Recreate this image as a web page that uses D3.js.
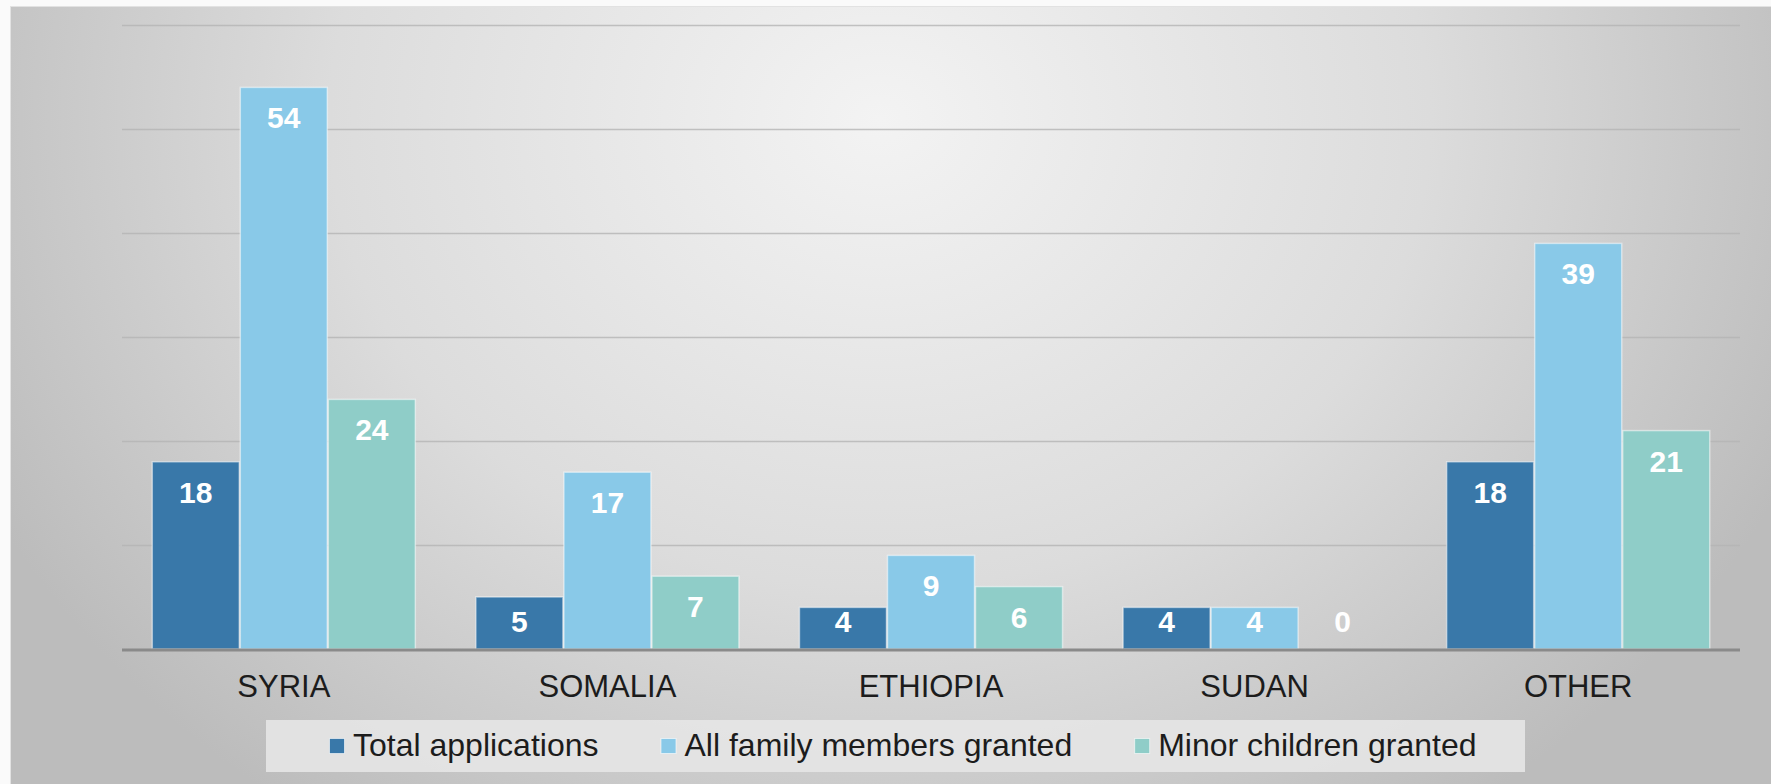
<!DOCTYPE html>
<html>
<head>
<meta charset="utf-8">
<script src="https://cdn.jsdelivr.net/npm/d3@7"></script>
<style>
  html, body { margin: 0; padding: 0; background: #fafafa; }
  svg { display: block; font-family: Arial, "Liberation Sans", sans-serif; }
</style>
</head>
<body>
<script>
const width = 1771;
const height = 784;

// data
const categories = ['SYRIA', 'SOMALIA', 'ETHIOPIA', 'SUDAN', 'OTHER'];
const seriesNames = ['Total applications', 'All family members granted', 'Minor children granted'];
const totalApplications = [18, 5, 4, 4, 18];
const familyGranted = [54, 17, 9, 4, 39];
const minorGranted = [24, 7, 6, 0, 21];
const yTicks = [0, 10, 20, 30, 40, 50, 60];
const colors = ['#3978a9', '#89c9e8', '#8fcdc8'];

const seriesValues = [totalApplications, familyGranted, minorGranted];

const svg = d3.select('body')
    .append('svg')
    .attr('width', width)
    .attr('height', height);

// panel background
const defs = svg.append('defs');
const grad = defs.append('radialGradient')
    .attr('id', 'bg')
    .attr('gradientUnits', 'userSpaceOnUse')
    .attr('cx', 880).attr('cy', 120).attr('r', 1000)
    .attr('gradientTransform', 'translate(880,120) scale(1,0.85) translate(-880,-120)');
grad.append('stop').attr('offset', '0%').attr('stop-color', '#f3f3f3');
grad.append('stop').attr('offset', '55%').attr('stop-color', '#dcdcdc');
grad.append('stop').attr('offset', '100%').attr('stop-color', '#bcbcbc');

svg.append('rect')
    .attr('x', 10.5).attr('y', 6.5)
    .attr('width', width).attr('height', height)
    .attr('fill', 'url(#bg)')
    .attr('stroke', '#e2e2e2')
    .attr('stroke-width', 1);

const plotLeft = 122, plotRight = 1740;
const plotTop = 25, plotBottom = 649;

const x = d3.scaleBand()
    .domain(categories)
    .range([plotLeft, plotRight])
    .paddingInner(0.184)
    .paddingOuter(0.092);

const xs = d3.scaleBand()
    .domain(d3.range(seriesNames.length))
    .range([0, x.bandwidth()]);

const y = d3.scaleLinear()
    .domain([0, 60])
    .range([plotBottom, plotTop]);

// gridlines
svg.append('g')
    .selectAll('line')
    .data(yTicks.filter(d => d > 0))
    .join('line')
    .attr('x1', plotLeft).attr('x2', plotRight)
    .attr('y1', d => y(d) + 0.5).attr('y2', d => y(d) + 0.5)
    .attr('stroke', '#b4b4b4')
    .attr('stroke-opacity', 0.8)
    .attr('stroke-width', 1.5);

// bars
const groups = svg.append('g')
    .selectAll('g')
    .data(categories)
    .join('g')
    .attr('transform', d => `translate(${x(d)},0)`);

const cells = groups.selectAll('g')
    .data((c, ci) => seriesValues.map((vals, si) => ({ si, v: vals[ci] })))
    .join('g');

cells.filter(d => d.v > 0)
    .append('rect')
    .attr('x', d => xs(d.si) + 0.5)
    .attr('y', d => y(d.v))
    .attr('width', xs.bandwidth() - 1)
    .attr('height', d => y(0) - y(d.v))
    .attr('fill', d => colors[d.si])
    .attr('stroke', '#ffffff')
    .attr('stroke-opacity', 0.5)
    .attr('stroke-width', 1.5);

cells.append('text')
    .attr('x', d => xs(d.si) + xs.bandwidth() / 2)
    .attr('y', d => Math.min(y(d.v) + 41, plotBottom - 17))
    .attr('text-anchor', 'middle')
    .attr('fill', '#ffffff')
    .attr('font-size', 30)
    .attr('font-weight', 'bold')
    .text(d => d.v);

// baseline
svg.append('line')
    .attr('x1', plotLeft).attr('x2', plotRight)
    .attr('y1', plotBottom + 1).attr('y2', plotBottom + 1)
    .attr('stroke', '#8a8a8a')
    .attr('stroke-width', 3);

// category labels
svg.append('g')
    .selectAll('text')
    .data(categories)
    .join('text')
    .attr('x', d => x(d) + x.bandwidth() / 2)
    .attr('y', 697)
    .attr('text-anchor', 'middle')
    .attr('fill', '#1c1c1c')
    .attr('font-size', 31)
    .text(d => d);

// legend
svg.append('rect')
    .attr('x', 266).attr('y', 720)
    .attr('width', 1259).attr('height', 52)
    .attr('fill', '#e6e6e6')
    .attr('fill-opacity', 0.9);

const legend = svg.append('g');
let lx = 329;
seriesNames.forEach((name, i) => {
    legend.append('rect')
        .attr('x', lx + 0.5).attr('y', 738.5)
        .attr('width', 15).attr('height', 15)
        .attr('fill', colors[i])
        .attr('stroke', '#ffffff')
        .attr('stroke-opacity', 0.6);
    const t = legend.append('text')
        .attr('x', lx + 24).attr('y', 756)
        .attr('fill', '#1c1c1c')
        .attr('font-size', 32)
        .text(name);
    lx = lx + 24 + t.node().getComputedTextLength() + 62;
});
</script>
</body>
</html>
